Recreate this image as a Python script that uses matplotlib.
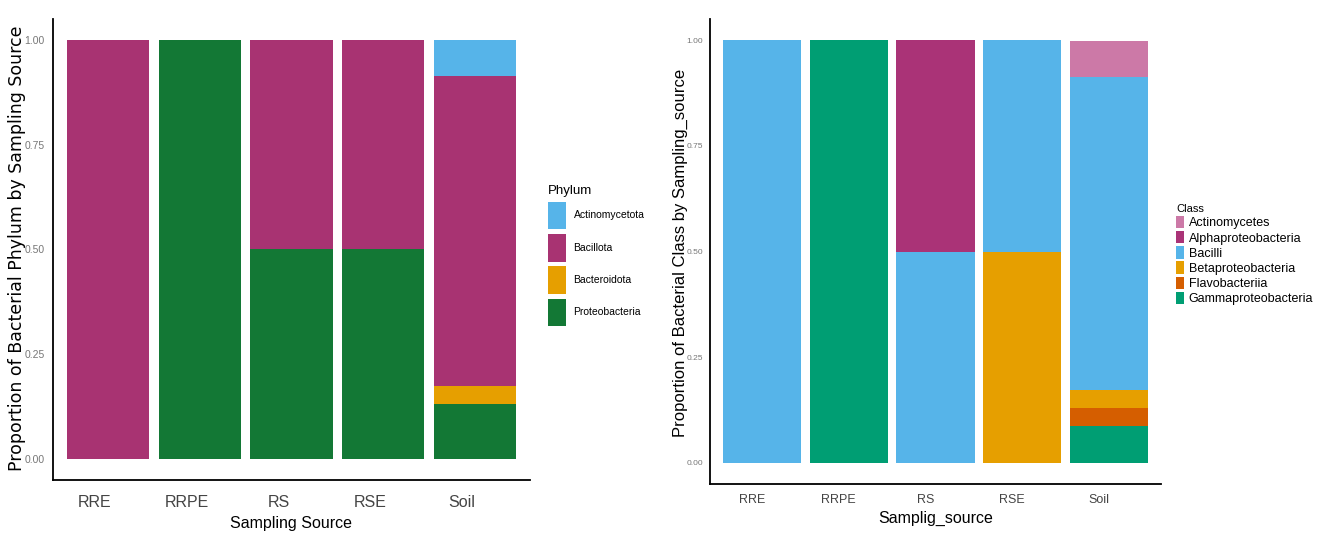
import matplotlib
matplotlib.use("Agg")
import matplotlib.pyplot as plt
from matplotlib.patches import Patch
from matplotlib.transforms import ScaledTranslation
import numpy as np

sources = ['RRE', 'RRPE', 'RS', 'RSE', 'Soil']

# phylum proportions per sampling source (legend order = top to bottom of stack)
phyla = ['Actinomycetota', 'Bacillota', 'Bacteroidota', 'Proteobacteria']
actinomycetota = [0, 0, 0, 0, 0.087]
bacillota = [1, 0, 0.5, 0.5, 0.739]
bacteroidota = [0, 0, 0, 0, 0.043]
proteobacteria = [0, 1, 0.5, 0.5, 0.131]
phylum_colors = ['#56B4E9', '#A83372', '#E69F00', '#137835']

# class proportions
classes = ['Actinomycetes', 'Alphaproteobacteria', 'Bacilli',
           'Betaproteobacteria', 'Flavobacteriia', 'Gammaproteobacteria']
actinomycetes = [0, 0, 0, 0, 0.087]
alphaproteobacteria = [0, 0, 0.5, 0, 0]
bacilli = [1, 0, 0.5, 0.5, 0.739]
betaproteobacteria = [0, 0, 0, 0.5, 0.043]
flavobacteriia = [0, 0, 0, 0, 0.043]
gammaproteobacteria = [0, 1, 0, 0, 0.087]
class_colors = ['#CC79A7', '#AA3377', '#56B4E9', '#E69F00', '#D55E00', '#009E73']

yticks = [0, 0.25, 0.5, 0.75, 1.0]
ytick_labels = ['0.00', '0.25', '0.50', '0.75', '1.00']

FONT = ['Liberation Sans', 'DejaVu Sans']

fig = plt.figure(figsize=(13.19, 5.33), dpi=100)
ax1 = fig.add_axes([0.0402, 0.0994, 0.3616, 0.865])
ax2 = fig.add_axes([0.5383, 0.0919, 0.3419, 0.8724])


def stacked(ax, series, colors):
    x = np.arange(len(sources))
    bottom = np.zeros(len(sources))
    # ggplot stacks the first level on top, so draw from the last one up
    for vals, col in zip(series[::-1], colors[::-1]):
        ax.bar(x, vals, width=0.9, bottom=bottom, color=col, linewidth=0)
        bottom += np.array(vals)
    ax.set_xlim(-0.6, len(sources) - 0.4)
    ax.set_ylim(-0.05, 1.05)
    for s in ['top', 'right']:
        ax.spines[s].set_visible(False)
    for s in ['left', 'bottom']:
        ax.spines[s].set_linewidth(1.3)
    ax.set_xticks(x)
    ax.set_yticks(yticks)
    ax.set_yticklabels(ytick_labels)
    ax.tick_params(length=0)


phylum_series = [actinomycetota, bacillota, bacteroidota, proteobacteria]
stacked(ax1, phylum_series, phylum_colors)
ax1.set_xticklabels(sources, family=FONT, fontsize=11.5, color='#444444')
ax1.tick_params(axis='x', pad=11)
ax1.tick_params(axis='y', pad=6)
for lab in ax1.get_yticklabels():
    lab.set_family(FONT)
    lab.set_fontsize(7.5)
    lab.set_color('#777777')
for lab in ax1.get_xticklabels():
    lab.set_transform(lab.get_transform() + ScaledTranslation(-0.13, 0, fig.dpi_scale_trans))
ax1.set_xlabel('Sampling Source', family=FONT, fontsize=11.5, labelpad=4)
ax1.set_ylabel('Proportion of Bacterial Phylum by Sampling Source',
               family='DejaVu Sans', fontsize=12.5)
ax1.yaxis.set_label_coords(-0.057, 0.503)

class_series = [actinomycetes, alphaproteobacteria, bacilli,
                betaproteobacteria, flavobacteriia, gammaproteobacteria]
stacked(ax2, class_series, class_colors)
ax2.set_xticklabels(sources, family=FONT, fontsize=9, color='#444444')
ax2.tick_params(axis='x', pad=7)
ax2.tick_params(axis='y', pad=5)
for lab in ax2.get_yticklabels():
    lab.set_family(FONT)
    lab.set_fontsize(6)
    lab.set_color('#777777')
for lab in ax2.get_xticklabels():
    lab.set_transform(lab.get_transform() + ScaledTranslation(-0.1, 0, fig.dpi_scale_trans))
ax2.set_xlabel('Samplig_source', family=FONT, fontsize=11.5, labelpad=4)
ax2.set_ylabel('Proportion of Bacterial Class by Sampling_source',
               family=FONT, fontsize=12)
ax2.yaxis.set_label_coords(-0.049, 0.498)

# legends
h1 = [Patch(facecolor=c, edgecolor='none') for c in phylum_colors]
leg1 = fig.legend(h1, phyla, title='Phylum', loc='upper left',
                  bbox_to_anchor=(0.4155, 0.653), frameon=False,
                  prop={'family': FONT, 'size': 7.5},
                  handlelength=1.75, handleheight=3.7, labelspacing=0.45,
                  handletextpad=0.7, borderaxespad=0, borderpad=0)
leg1.get_title().set_fontproperties({'family': FONT, 'size': 9.5})
leg1._legend_box.align = 'left'

h2 = [Patch(facecolor=c, edgecolor='none') for c in class_colors]
leg2 = fig.legend(h2, classes, title='Class', loc='upper left',
                  bbox_to_anchor=(0.8918, 0.617), frameon=False,
                  prop={'family': FONT, 'size': 9},
                  handlelength=0.6, handleheight=1.15, labelspacing=0.14,
                  handletextpad=0.4, borderaxespad=0, borderpad=0)
leg2.get_title().set_fontproperties({'family': FONT, 'size': 8})
leg2._legend_box.align = 'left'

fig.savefig('out.png', dpi=100)
